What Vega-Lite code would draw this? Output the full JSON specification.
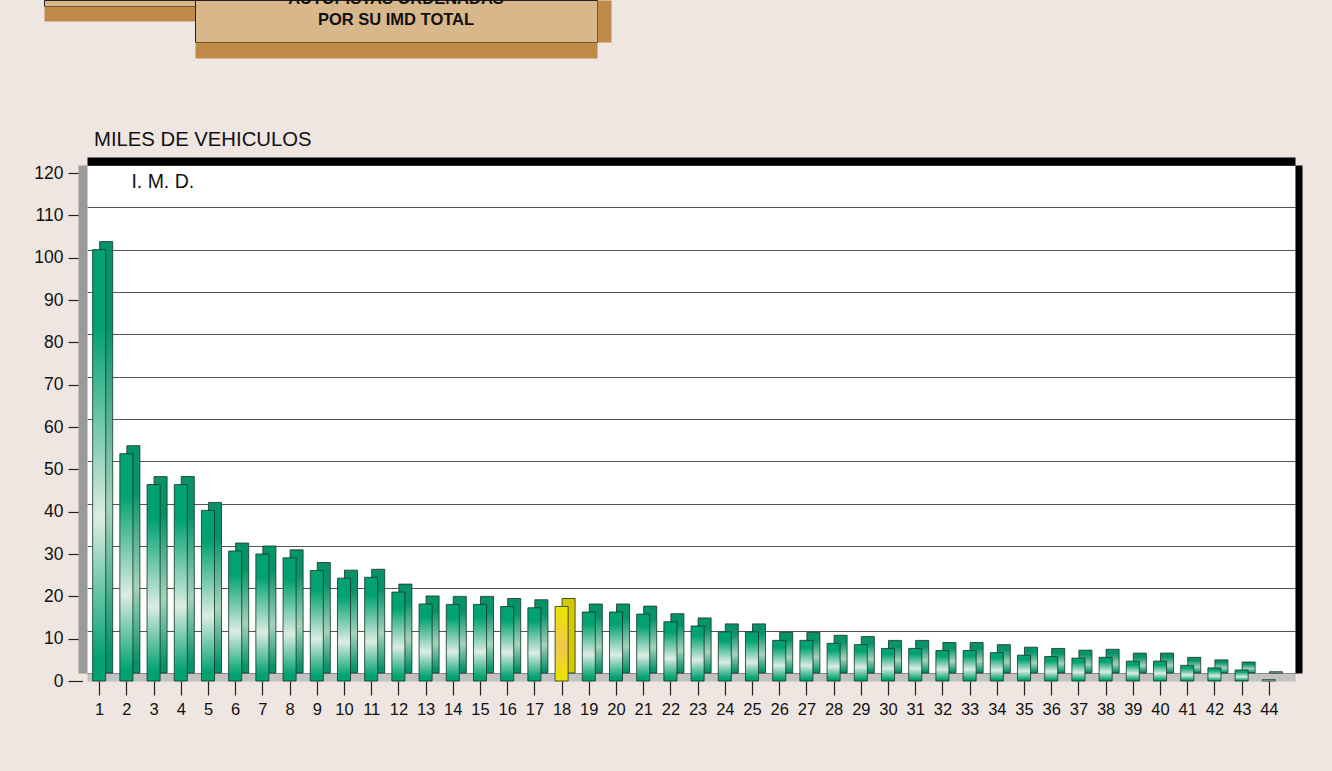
{
  "$schema": "https://vega.github.io/schema/vega-lite/v6.json",
  "background": "#f0e6e1",
  "autosize": {"type": "none"},
  "padding": {"left": 44, "top": 0, "right": 1288, "bottom": 771},
  "spacing": 165,
  "bounds": "flush",
  "config": {"font": "Liberation Sans", "view": {"stroke": null}},
  "vconcat": [
    {
      "hconcat": [
        {
          "width": 151,
          "height": 6,
          "view": {"fill": "#d8b78b", "stroke": "#222222", "strokeWidth": 1},
          "data": {"values": [{}]},
          "mark": {"type": "text", "text": ""},
          "encoding": {
            "x": {"datum": 0.5, "type": "quantitative", "scale": {"domain": [0, 1]},
              "axis": {"orient": "bottom", "domainColor": "#bf8a48", "domainWidth": 15, "offset": 7.5, "ticks": false, "labels": false, "grid": false, "title": null}}
          }
        },
        {
          "width": 402,
          "height": 42,
          "view": {"fill": "#d8b78b", "stroke": "#222222", "strokeWidth": 1},
          "data": {"values": [{}]},
          "mark": {"type": "text", "text": ["AUTOPISTAS ORDENADAS", "POR SU IMD TOTAL"], "fontWeight": "bold", "fontSize": 16.5, "lineHeight": 21, "baseline": "alphabetic", "dy": -17, "clip": true, "color": "#111111"},
          "encoding": {
            "x": {"datum": 0.5, "type": "quantitative", "scale": {"domain": [0, 1]},
              "axis": {"orient": "bottom", "domainColor": "#bf8a48", "domainWidth": 16, "offset": 8, "ticks": false, "labels": false, "grid": false, "title": null}},
            "y": {"datum": 0.5, "type": "quantitative", "scale": {"domain": [0, 1]},
              "axis": {"orient": "right", "domainColor": "#bf8a48", "domainWidth": 14, "offset": 7, "ticks": false, "labels": false, "grid": false, "title": null}}
          }
        }
      ],
      "spacing": 0,
      "bounds": "flush"
    },
    {
      "hconcat": [
        {
          "width": 43,
          "height": 10,
          "data": {"values": [{}]},
          "mark": {"type": "text", "text": ""}
        },
        {
          "width": 1208,
          "height": 508,
          "view": {"fill": "#ffffff", "stroke": null},
          "title": {"text": "MILES DE VEHICULOS", "anchor": "start", "frame": "group", "fontSize": 20.3, "fontWeight": "normal", "color": "#111111", "dx": 7, "offset": 11},
          "data": {"values": [
            {"n": 1, "imd": 101.9}, {"n": 2, "imd": 53.7}, {"n": 3, "imd": 46.4}, {"n": 4, "imd": 46.4},
            {"n": 5, "imd": 40.3}, {"n": 6, "imd": 30.7}, {"n": 7, "imd": 30.0}, {"n": 8, "imd": 29.1},
            {"n": 9, "imd": 26.1}, {"n": 10, "imd": 24.3}, {"n": 11, "imd": 24.5}, {"n": 12, "imd": 21.0},
            {"n": 13, "imd": 18.2}, {"n": 14, "imd": 18.1}, {"n": 15, "imd": 18.1}, {"n": 16, "imd": 17.6},
            {"n": 17, "imd": 17.3}, {"n": 18, "imd": 17.6}, {"n": 19, "imd": 16.3}, {"n": 20, "imd": 16.3},
            {"n": 21, "imd": 15.8}, {"n": 22, "imd": 14.0}, {"n": 23, "imd": 13.0}, {"n": 24, "imd": 11.6},
            {"n": 25, "imd": 11.6}, {"n": 26, "imd": 9.6}, {"n": 27, "imd": 9.6}, {"n": 28, "imd": 8.9},
            {"n": 29, "imd": 8.6}, {"n": 30, "imd": 7.7}, {"n": 31, "imd": 7.7}, {"n": 32, "imd": 7.2},
            {"n": 33, "imd": 7.2}, {"n": 34, "imd": 6.7}, {"n": 35, "imd": 6.1}, {"n": 36, "imd": 5.8},
            {"n": 37, "imd": 5.4}, {"n": 38, "imd": 5.6}, {"n": 39, "imd": 4.7}, {"n": 40, "imd": 4.7},
            {"n": 41, "imd": 3.7}, {"n": 42, "imd": 3.1}, {"n": 43, "imd": 2.6}, {"n": 44, "imd": 0.3}
          ]},
          "layer": [
            {
              "mark": {"type": "bar", "stroke": "#143326", "strokeWidth": 0.8},
              "encoding": {
                "x": {"field": "n", "type": "ordinal", "scale": {"paddingInner": 0.52, "paddingOuter": 0.465},
                  "axis": {"orient": "top", "domainColor": "#000000", "domainWidth": 8, "offset": 4, "ticks": false, "labels": false, "title": null, "grid": false}},
                "y": {"field": "imd", "type": "quantitative", "scale": {"domain": [0, 120], "nice": false},
                  "axis": {"orient": "left", "values": [0, 10, 20, 30, 40, 50, 60, 70, 80, 90, 100, 110, 120],
                    "domainColor": "#9a9a9a", "domainWidth": 9, "offset": 4.5, "tickSize": 14.5, "tickColor": "#222222", "tickWidth": 1.2,
                    "tickOffset": 8, "labelPadding": 5, "labelFontSize": 17.5, "labelColor": "#111111", "grid": false, "title": null}},
                "fill": {
                  "condition": {"test": "datum.n === 18", "value": "#d4c800"},
                  "value": {"gradient": "linear", "x1": 0, "y1": 0, "x2": 0, "y2": 1,
                    "stops": [{"offset": 0, "color": "#07936a"}, {"offset": 0.2, "color": "#07936a"}, {"offset": 0.62, "color": "#a6d3bb"}, {"offset": 0.95, "color": "#07936a"}, {"offset": 1, "color": "#07936a"}]}
                }
              }
            },
            {
              "mark": {"type": "bar", "xOffset": -7, "yOffset": 8, "y2Offset": 8, "stroke": "#143326", "strokeWidth": 0.8},
              "encoding": {
                "x": {"field": "n", "type": "ordinal",
                  "axis": {"orient": "bottom", "domainColor": "#c2c2c2", "domainWidth": 8, "offset": 4, "tickSize": 18, "tickOffset": -7, "tickColor": "#222222", "tickWidth": 1.2,
                    "labelFontSize": 16.5, "labelPadding": 6, "labelAngle": 0, "labelColor": "#111111", "title": null, "grid": false}},
                "y": {"field": "imd", "type": "quantitative",
                  "axis": {"orient": "right", "values": [0, 10, 20, 30, 40, 50, 60, 70, 80, 90, 100, 110, 120],
                    "grid": true, "gridColor": "#555555", "gridWidth": 1.2, "domainColor": "#000000", "domainWidth": 7, "offset": 3.5,
                    "ticks": false, "labels": false, "title": null}},
                "fill": {
                  "condition": {"test": "datum.n === 18",
                    "value": {"gradient": "linear", "x1": 0, "y1": 0, "x2": 0, "y2": 1,
                      "stops": [{"offset": 0, "color": "#ece400"}, {"offset": 0.55, "color": "#f2c84c"}, {"offset": 1, "color": "#ece400"}]}},
                  "value": {"gradient": "linear", "x1": 0, "y1": 0, "x2": 0, "y2": 1,
                    "stops": [{"offset": 0, "color": "#00a271"}, {"offset": 0.18, "color": "#00a271"}, {"offset": 0.62, "color": "#dcece4"}, {"offset": 0.95, "color": "#00a271"}, {"offset": 1, "color": "#00a271"}]}
                }
              }
            },
            {
              "data": {"values": [{}]},
              "mark": {"type": "text", "text": "I. M. D.", "align": "left", "baseline": "alphabetic", "fontSize": 19.5, "color": "#111111", "dx": -2, "dy": 23},
              "encoding": {
                "x": {"datum": 2, "type": "ordinal", "axis": null},
                "y": {"datum": 120, "type": "quantitative", "axis": null}
              }
            }
          ],
          "resolve": {"axis": {"x": "independent", "y": "independent"}}
        }
      ],
      "spacing": 0,
      "bounds": "flush"
    }
  ]
}
